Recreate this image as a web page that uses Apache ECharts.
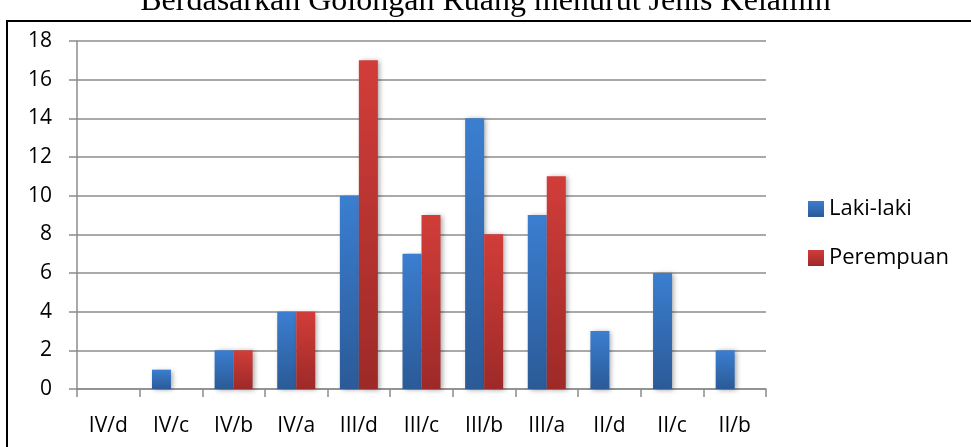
<!DOCTYPE html>
<html>
<head>
<meta charset="utf-8">
<script src="https://cdn.jsdelivr.net/npm/echarts@6/dist/echarts.min.js"></script>
<style>
  html, body { margin: 0; padding: 0; background: #fff; }
  #chart { width: 971px; height: 447px; }
</style>
</head>
<body>
<div id="chart"></div>
<script>
// Jumlah pegawai per golongan ruang, dipisah menurut jenis kelamin
const titleText = 'Berdasarkan Golongan Ruang menurut Jenis Kelamin';
const categories = ['IV/d', 'IV/c', 'IV/b', 'IV/a', 'III/d', 'III/c', 'III/b', 'III/a', 'II/d', 'II/c', 'II/b'];
const seriesNames = ['Laki-laki', 'Perempuan'];
const lakiLaki = [0, 1, 2, 4, 10, 7, 14, 9, 3, 6, 2];
const perempuan = [0, 0, 2, 4, 17, 9, 8, 11, 0, 0, 0];
const yTicks = { min: 0, max: 18, interval: 2 };

const FONT = 'Open Sans';
const GRID_COLOR = '#8c8c8c';

function vGrad(top, bottom) {
  return new echarts.graphic.LinearGradient(0, 0, 0, 1, [
    { offset: 0, color: top },
    { offset: 1, color: bottom }
  ]);
}

const chart = echarts.init(document.getElementById('chart'), null, { renderer: 'canvas' });

const barStyle = (top, bottom) => ({
  color: vGrad(top, bottom),
  shadowColor: 'rgba(0,0,0,0.35)',
  shadowBlur: 5,
  shadowOffsetX: 2,
  shadowOffsetY: 1
});

chart.setOption({
  animation: false,
  backgroundColor: '#ffffff',
  title: {
    text: titleText,
    left: 'center',
    top: -14,
    padding: 0,
    textStyle: { fontFamily: 'Liberation Serif', fontSize: 32, fontWeight: 'normal', color: '#000' }
  },
  graphic: [
    {
      type: 'rect',
      shape: { x: 7, y: 21, width: 1000, height: 500 },
      style: { fill: 'none', stroke: '#000', lineWidth: 2 },
      z: 0
    }
  ],
  grid: { left: 77, right: 205, top: 41, bottom: 58, containLabel: false },
  legend: {
    orient: 'vertical',
    left: 808,
    top: 198,
    padding: 0,
    itemWidth: 16,
    itemHeight: 16,
    itemGap: 27,
    icon: 'rect',
    textStyle: { fontFamily: FONT, fontSize: 22, color: '#000' },
    data: seriesNames
  },
  xAxis: {
    type: 'category',
    data: categories,
    axisLine: { show: true, lineStyle: { color: GRID_COLOR, width: 1.5 } },
    axisTick: { show: true, length: 8, lineStyle: { color: GRID_COLOR, width: 1.5 } },
    axisLabel: { margin: 27, fontFamily: FONT, fontSize: 21, color: '#000' }
  },
  yAxis: {
    type: 'value',
    min: yTicks.min,
    max: yTicks.max,
    interval: yTicks.interval,
    axisLine: { show: true, lineStyle: { color: GRID_COLOR, width: 1.5 } },
    axisTick: { show: true, length: 8, lineStyle: { color: GRID_COLOR, width: 1.5 } },
    splitLine: { show: true, lineStyle: { color: GRID_COLOR, width: 1.5 } },
    axisLabel: { margin: 25, fontFamily: FONT, fontSize: 21, color: '#000' }
  },
  series: [
    {
      name: seriesNames[0],
      type: 'bar',
      data: lakiLaki,
      barWidth: 19,
      barGap: '0%',
      itemStyle: barStyle('#3b7ed0', '#2b5a97')
    },
    {
      name: seriesNames[1],
      type: 'bar',
      data: perempuan,
      barWidth: 19,
      barGap: '0%',
      itemStyle: barStyle('#d13d39', '#9d2a28')
    }
  ]
});
</script>
</body>
</html>
